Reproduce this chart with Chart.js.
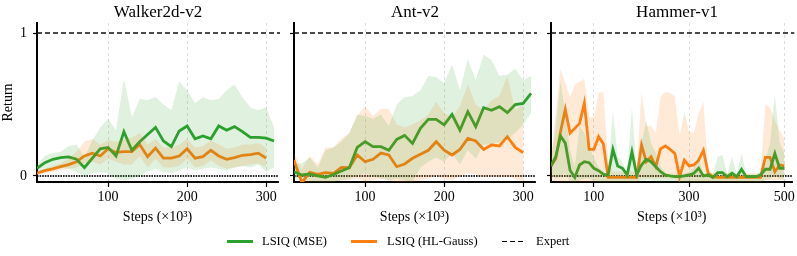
<!DOCTYPE html>
<html><head><meta charset="utf-8">
<script src="https://cdn.jsdelivr.net/npm/chart.js@4/dist/chart.umd.min.js"></script>
<style>
html,body{margin:0;padding:0;background:#fff;}
#wrap{position:relative;width:797px;height:256px;overflow:hidden;font-family:'Liberation Serif','Times New Roman',serif;color:#000;}
canvas{position:absolute;top:0;}
.ttl{position:absolute;top:0;height:24px;line-height:24px;font-size:17px;transform:translateX(-50%);white-space:nowrap;}
.leg{position:absolute;top:233px;height:17px;line-height:17px;font-size:12.5px;white-space:nowrap;}
.sw{position:absolute;}
</style></head>
<body>
<div id="wrap">
  <canvas id="c1" width="280" height="256" style="left:0px"></canvas>
  <canvas id="c2" width="257" height="256" style="left:280px"></canvas>
  <canvas id="c3" width="260" height="256" style="left:537px"></canvas>
  <div class="ttl" id="t1" style="left:158px"></div>
  <div class="ttl" id="t2" style="left:415px"></div>
  <div class="ttl" id="t3" style="left:677px"></div>
  <div class="sw" style="left:227px;top:240px;width:26px;height:3px;background:#2ca02c"></div>
  <div class="leg" id="l1" style="left:262px"></div>
  <div class="sw" style="left:351px;top:240px;width:26px;height:3px;background:#ff7f0e"></div>
  <div class="leg" id="l2" style="left:387px"></div>
  <div class="sw" style="left:502px;top:240.5px;width:23px;height:1.6px;background:repeating-linear-gradient(90deg,#000 0 5px,transparent 5px 8px)"></div>
  <div class="leg" id="l3" style="left:536px"></div>
</div>
<script>
// ---------- data ----------
const TITLES = ['Walker2d-v2', 'Ant-v2', 'Hammer-v1'];
const SERIES_NAMES = ['LSIQ (MSE)', 'LSIQ (HL-Gauss)', 'Expert'];
const X_LABEL = 'Steps (×10³)';
const Y_LABEL = 'Return';
const Y_TICKS = [0, 1];
const EXPERT_RETURN = 1;
const ZERO_RETURN = 0;

const WALKER_X_TICKS = [100, 200, 300];
const ANT_X_TICKS = [100, 200, 300];
const HAMMER_X_TICKS = [100, 300, 500];

const WALKER_STEPS = [10,20,30,40,50,60,70,80,90,100,110,120,130,140,150,160,170,180,190,200,210,220,230,240,250,260,270,280,290,300,310];
const WALKER_MSE    = [0.054,0.093,0.117,0.128,0.133,0.117,0.058,0.124,0.19,0.2,0.14,0.31,0.18,0.24,0.29,0.34,0.245,0.205,0.315,0.35,0.26,0.28,0.26,0.35,0.32,0.345,0.31,0.27,0.27,0.265,0.245];
const WALKER_MSE_HI = [0.08,0.14,0.16,0.17,0.21,0.22,0.13,0.25,0.34,0.4,0.32,0.68,0.41,0.54,0.53,0.55,0.5,0.46,0.66,0.6,0.51,0.55,0.53,0.54,0.6,0.64,0.55,0.48,0.46,0.48,0.34];
const WALKER_MSE_LO = [0.02,0.04,0.05,0.06,0.05,0.03,0.0,0.02,0.03,0.02,-0.02,-0.03,-0.02,0.0,0.03,0.05,0.03,0.02,0.04,0.06,0.04,0.05,0.06,0.05,0.04,0.06,0.07,0.06,0.08,0.03,0.06];
const WALKER_HL     = [0.02,0.037,0.05,0.065,0.08,0.1,0.14,0.16,0.14,0.19,0.165,0.17,0.17,0.22,0.135,0.195,0.125,0.125,0.14,0.19,0.125,0.135,0.18,0.14,0.117,0.128,0.145,0.15,0.16,0.125];
const WALKER_HL_HI  = [0.03,0.05,0.07,0.09,0.12,0.17,0.24,0.26,0.22,0.25,0.24,0.26,0.27,0.3,0.22,0.26,0.2,0.2,0.22,0.26,0.2,0.21,0.25,0.22,0.19,0.2,0.22,0.22,0.23,0.2];
const WALKER_HL_LO  = [0.01,0.02,0.03,0.04,0.05,0.06,0.09,0.1,0.08,0.12,0.1,0.08,0.08,0.14,0.06,0.12,0.06,0.06,0.07,0.12,0.06,0.07,0.11,0.07,0.05,0.06,0.07,0.08,0.09,0.06];

const ANT_STEPS = [10,20,30,40,50,60,70,80,90,100,110,120,130,140,150,160,170,180,190,200,210,220,230,240,250,260,270,280,290,300,310];
const ANT_MSE    = [0.03,0.007,0.014,0,-0.01,0.01,0.035,0.058,0.2,0.24,0.205,0.205,0.18,0.256,0.284,0.228,0.333,0.396,0.396,0.357,0.43,0.32,0.45,0.345,0.478,0.46,0.485,0.443,0.5,0.508,0.578];
const ANT_MSE_HI = [0.08,0.09,0.13,0.06,0.18,0.2,0.24,0.3,0.43,0.42,0.4,0.43,0.35,0.5,0.55,0.56,0.6,0.7,0.69,0.65,0.78,0.6,0.82,0.67,0.85,0.81,0.7,0.71,0.75,0.67,0.7];
const ANT_MSE_LO = [-0.02,-0.03,-0.03,-0.04,-0.04,-0.04,-0.03,-0.02,0.0,0.02,0.0,-0.02,-0.03,-0.02,-0.03,-0.04,0.06,0.1,0.13,0.1,0.16,0.08,0.18,0.12,0.22,0.22,0.24,0.26,0.3,0.36,0.44];
const ANT_HL     = [0.11,-0.047,0.026,0.012,0.023,0.019,0.06,0.058,0.147,0.1,0.117,0.16,0.147,0.065,0.084,0.124,0.152,0.18,0.24,0.18,0.147,0.186,0.263,0.245,0.186,0.217,0.21,0.275,0.2,0.163];
const ANT_HL_HI  = [0.16,0.05,0.14,0.08,0.2,0.2,0.26,0.3,0.42,0.49,0.42,0.47,0.47,0.36,0.34,0.36,0.39,0.43,0.52,0.44,0.41,0.49,0.64,0.5,0.46,0.53,0.56,0.7,0.46,0.5];
const ANT_HL_LO  = [0.05,-0.05,-0.04,-0.04,-0.04,-0.04,-0.03,-0.03,-0.02,-0.04,-0.03,-0.02,-0.03,-0.05,-0.05,-0.04,-0.03,-0.02,0.0,-0.02,-0.03,0.0,0.02,0.01,-0.01,0.0,-0.01,0.0,-0.02,-0.04];

const HAMMER_STEPS = [10,20,30,40,50,60,70,80,90,100,110,120,130,140,150,160,170,180,190,200,210,220,230,240,250,260,270,280,290,300,310,320,330,340,350,360,370,380,390,400,410,420,430,440,450,460,470,480,490,500];
const HAMMER_MSE    = [0.07,0.135,0.28,0.23,0.04,-0.01,0.077,0.1,0.093,0.054,0.037,0.012,0.007,0.186,0.07,0.054,0.007,0.17,0.007,0.077,0.117,0.1,0.065,0.03,0.007,0,-0.005,-0.005,0,0.007,0.019,0.054,0,0.007,-0.01,0.023,0.023,-0.005,0.019,-0.005,0.047,-0.005,-0.005,-0.005,0.007,0.047,0.047,0.158,0.054,0.054];
const HAMMER_MSE_HI = [0.11,0.35,0.66,0.44,0.18,0.065,0.35,0.3,0.2,0.13,0.06,0.03,0.01,0.45,0.135,0.09,0.03,0.48,0.02,0.23,0.39,0.23,0.16,0.065,0.02,0.01,0.01,0.01,0.02,0.03,0.06,0.135,0.01,0.03,0.01,0.135,0.147,0.01,0.135,0.01,0.16,0.01,0.01,0.01,0.03,0.11,0.23,0.57,0.23,0.16];
const HAMMER_MSE_LO = [0.03,-0.02,0.0,0.02,-0.04,-0.04,-0.03,-0.02,-0.02,-0.03,-0.04,-0.04,-0.04,-0.04,-0.04,-0.04,-0.04,-0.04,-0.04,-0.04,-0.03,-0.03,-0.04,-0.04,-0.04,-0.04,-0.04,-0.04,-0.04,-0.04,-0.04,-0.04,-0.04,-0.04,-0.04,-0.04,-0.04,-0.04,-0.04,-0.04,-0.04,-0.04,-0.04,-0.04,-0.04,-0.03,-0.02,0.0,-0.02,-0.02];
const HAMMER_HL     = [0.07,0.12,0.31,0.466,0.3,0.333,0.368,0.51,0.186,0.186,0.275,0.224,-0.01,-0.01,-0.01,-0.01,-0.01,-0.01,-0.01,0.217,0.1,0.135,0.065,0.19,0.21,0.186,0.158,-0.005,0.11,0.07,0.077,0.11,0.18,0.019,-0.005,-0.01,-0.01,-0.01,-0.01,-0.01,-0.01,-0.01,-0.01,-0.01,-0.01,0.13,0.13,0.03,0.077,0.07];
const HAMMER_HL_HI  = [0.13,0.45,0.75,0.65,0.55,0.64,0.66,0.68,0.41,0.41,0.58,0.59,0.11,0.03,0.03,0.03,0.03,0.03,0.03,0.59,0.35,0.35,0.3,0.55,0.59,0.58,0.56,0.28,0.45,0.31,0.3,0.44,0.52,0.04,0.02,0.02,0.02,0.02,0.02,0.02,0.02,0.02,0.02,0.02,0.02,0.5,0.48,0.39,0.32,0.26];
const HAMMER_HL_LO  = [-0.02,-0.04,-0.04,-0.04,-0.04,-0.04,-0.04,-0.04,-0.04,-0.04,-0.04,-0.04,-0.04,-0.04,-0.04,-0.04,-0.04,-0.04,-0.04,-0.02,-0.02,-0.02,-0.02,-0.02,-0.02,-0.02,-0.02,-0.04,-0.04,-0.04,-0.04,-0.04,-0.04,-0.04,-0.04,-0.04,-0.04,-0.04,-0.04,-0.04,-0.04,-0.04,-0.04,-0.04,-0.04,-0.03,-0.03,-0.03,-0.03,-0.03];

// ---------- styling ----------
const GREEN = '#2ca02c', ORANGE = '#ff7f0e';
const GREEN_FILL = 'rgba(44,160,44,0.15)', ORANGE_FILL = 'rgba(255,127,14,0.16)';
const FONT = "'Liberation Serif','Times New Roman',serif";
Chart.defaults.font.family = FONT;
Chart.defaults.color = '#000';

document.getElementById('t1').textContent = TITLES[0];
document.getElementById('t2').textContent = TITLES[1];
document.getElementById('t3').textContent = TITLES[2];
document.getElementById('l1').textContent = SERIES_NAMES[0];
document.getElementById('l2').textContent = SERIES_NAMES[1];
document.getElementById('l3').textContent = SERIES_NAMES[2];

const pts = (steps, vals) => vals.map((v, i) => ({x: steps[i], y: v}));

const refLines = {
  id: 'refLines',
  beforeDatasetsDraw(chart) {
    const {ctx, chartArea: a, scales: {y}} = chart;
    const py = y.getPixelForValue(ZERO_RETURN);
    ctx.save();
    ctx.strokeStyle = 'rgba(0,0,0,0.85)';
    ctx.lineWidth = 2;
    ctx.setLineDash([1.6, 1]);
    ctx.beginPath(); ctx.moveTo(a.left, py); ctx.lineTo(a.right, py); ctx.stroke();
    ctx.restore();
  },
  afterDatasetsDraw(chart) {
    const {ctx, chartArea: a, scales: {y}} = chart;
    const py = y.getPixelForValue(EXPERT_RETURN);
    ctx.save();
    ctx.strokeStyle = '#111';
    ctx.lineWidth = 1.6;
    ctx.setLineDash([5, 3]);
    ctx.beginPath(); ctx.moveTo(a.left, py); ctx.lineTo(a.right + 2, py); ctx.stroke();
    ctx.restore();
  }
};

function makeChart(id, steps, mse, mseHi, mseLo, hl, hlHi, hlLo, xTicks, xMax, yWidth, padRight, showY) {
  const band = (data, color, fill) => ({data, borderWidth: 0, pointRadius: 0, backgroundColor: color, borderColor: 'transparent', fill, tension: 0});
  const line = (data, color) => ({data, borderWidth: 2.8, pointRadius: 0, borderColor: color, fill: false, tension: 0, borderJoinStyle: 'miter'});
  return new Chart(document.getElementById(id), {
    type: 'line',
    data: {
      datasets: [
        band(pts(steps, mseHi), GREEN_FILL, '+1'),
        band(pts(steps, mseLo), GREEN_FILL, false),
        band(pts(steps, hlHi), ORANGE_FILL, '+1'),
        band(pts(steps, hlLo), ORANGE_FILL, false),
        line(pts(steps, mse), GREEN),
        line(pts(steps, hl), ORANGE)
      ]
    },
    options: {
      responsive: false, animation: false, devicePixelRatio: 1,
      layout: {padding: {top: 23, bottom: 28, left: 0, right: padRight}},
      plugins: {legend: {display: false}, tooltip: {enabled: false}, title: {display: false}},
      scales: {
        x: {
          type: 'linear', min: 10, max: xMax,
          afterBuildTicks: s => { s.ticks = xTicks.map(v => ({value: v})); },
          afterFit: s => { s.height = 46; },
          ticks: {font: {size: 14}, color: '#000', padding: 2, maxRotation: 0, autoSkip: false},
          grid: {color: 'rgba(0,0,0,0.17)', lineWidth: 0.8, drawTicks: true, tickLength: 5, tickColor: '#000', tickWidth: 1.2, tickBorderDash: []},
          border: {display: true, color: '#000', width: 2, dash: [3, 3]},
          title: {display: true, text: X_LABEL, font: {size: 14}, color: '#000', padding: {top: 0, bottom: 2}}
        },
        y: {
          type: 'linear', min: -0.042, max: 1.07,
          afterBuildTicks: s => { s.ticks = Y_TICKS.map(v => ({value: v})); },
          afterFit: s => { s.width = yWidth; },
          ticks: {display: showY, font: {size: 14}, color: '#000', padding: 6},
          grid: {drawOnChartArea: false, drawTicks: true, tickLength: 4, tickColor: '#000', tickWidth: 1.2},
          border: {display: true, color: '#000', width: 2},
          title: {display: showY, text: Y_LABEL, font: {size: 14}, color: '#000', padding: {top: 0, bottom: 0}}
        }
      }
    },
    plugins: [refLines]
  });
}

makeChart('c1', WALKER_STEPS, WALKER_MSE, WALKER_MSE_HI, WALKER_MSE_LO, WALKER_HL, WALKER_HL_HI, WALKER_HL_LO, WALKER_X_TICKS, 315, 37, 2, true);
makeChart('c2', ANT_STEPS, ANT_MSE, ANT_MSE_HI, ANT_MSE_LO, ANT_HL, ANT_HL_HI, ANT_HL_LO, ANT_X_TICKS, 315, 14, 2, false);
makeChart('c3', HAMMER_STEPS, HAMMER_MSE, HAMMER_MSE_HI, HAMMER_MSE_LO, HAMMER_HL, HAMMER_HL_HI, HAMMER_HL_LO, HAMMER_X_TICKS, 516.7, 14, 4, false);
</script>
</body></html>
